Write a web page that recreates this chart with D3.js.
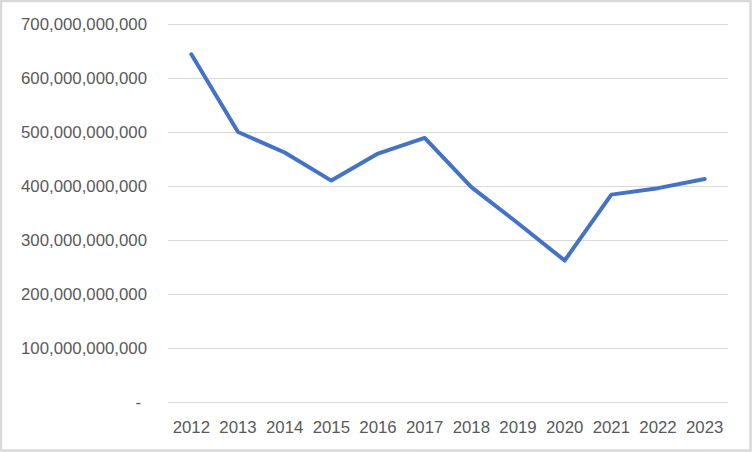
<!DOCTYPE html>
<html>
<head>
<meta charset="utf-8">
<script src="https://cdn.jsdelivr.net/npm/d3@7"></script>
<style>
html,body{margin:0;padding:0;background:#fff;}
svg{display:block;}
</style>
</head>
<body>
<script>
const years = ["2012","2013","2014","2015","2016","2017","2018","2019","2020","2021","2022","2023"];
const values = [644e9, 500e9, 462e9, 410e9, 460e9, 489e9, 398e9, 331e9, 262e9, 384e9, 396e9, 413e9];
const yTicks = [0, 100e9, 200e9, 300e9, 400e9, 500e9, 600e9, 700e9];

(function () {
const W = 752, H = 452;
const svg = d3.select("body").append("svg").attr("width", W).attr("height", H);

svg.append("rect").attr("x", 1).attr("y", 1).attr("width", W - 2.5).attr("height", H - 2.5)
  .attr("fill", "#fff").attr("stroke", "#d9d9d9").attr("stroke-width", 2.5);

const pLeft = 168, pRight = 728, pTop = 24, pBottom = 402;
const x = d3.scaleBand().domain(years).range([pLeft, pRight]);
const y = d3.scaleLinear().domain([0, 700e9]).range([pBottom, pTop]);

const font = "'Liberation Sans', Arial, sans-serif";
const fmt = d3.format(",");

// gridlines
svg.append("g").selectAll("line").data(yTicks).join("line")
  .attr("x1", pLeft).attr("x2", pRight)
  .attr("y1", d => Math.round(y(d)) + 0.5).attr("y2", d => Math.round(y(d)) + 0.5)
  .attr("stroke", "#d9d9d9").attr("stroke-width", 1);

// y axis labels
const yAxis = d3.axisLeft(y).tickValues(yTicks).tickSize(0).tickPadding(0)
  .tickFormat(d => d === 0 ? "-" : fmt(d));
const ga = svg.append("g").attr("transform", `translate(${pLeft - 21},0)`).call(yAxis);
ga.select(".domain").remove();
ga.selectAll("text").attr("fill", "#595959").style("font-family", font).style("font-size", "16.8px")
  .attr("dy", "0.35em");
ga.selectAll(".tick").filter(d => d === 0).select("text").attr("dx", "-6");

// x axis labels
const xAxis = d3.axisBottom(x).tickSize(0).tickPadding(0);
const gx = svg.append("g").attr("transform", `translate(0,${pBottom + 19})`).call(xAxis);
gx.select(".domain").remove();
gx.selectAll("text").attr("fill", "#595959").style("font-family", font).style("font-size", "16.8px")
  .attr("dy", "0.71em");

// line
const line = d3.line().x((d, i) => x(years[i]) + x.bandwidth() / 2).y(d => y(d));
svg.append("path").datum(values).attr("d", line)
  .attr("fill", "none").attr("stroke", "#4472C4").attr("stroke-width", 4)
  .attr("stroke-linecap", "round").attr("stroke-linejoin", "round");
})();
</script>
</body>
</html>
